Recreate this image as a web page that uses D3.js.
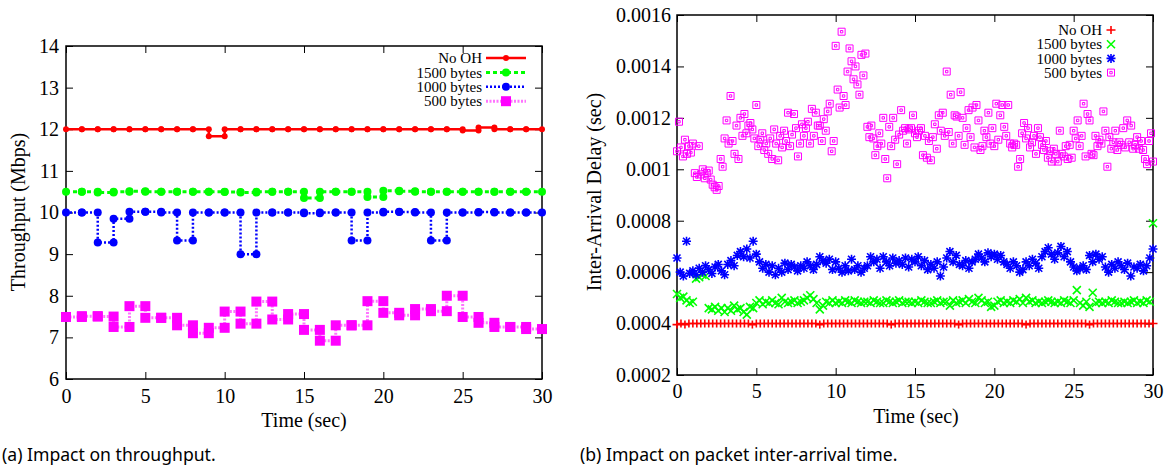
<!doctype html>
<html>

<head>
	<meta charset="utf-8">
	<style>
		body { margin: 0; background: #fff; }
		svg text { font-family: "Liberation Serif", "DejaVu Serif", serif; fill: #000; }
		svg .caption { font-family: "Noto Sans", Lato, sans-serif; }
	</style>
</head>

<body>
	<div class="figure"></div>

	<script src="https://d3js.org/d3.v7.min.js"></script>
	<script>
		// ---- (a) throughput, one value per 1 s interval (Mbps) ----
		let tpSeries = ["No OH", "1500 bytes", "1000 bytes", "500 bytes"];
		let tpNoOH = [12, 12, 12, 12, 12, 12, 12, 12, 12, 11.83, 12, 12, 12, 12, 12,
			12, 12, 12, 12, 12, 12, 12, 12, 12, 12, 11.97, 12.04, 12, 12, 12];
		let tp1500 = [10.5, 10.5, 10.48, 10.5, 10.51, 10.5, 10.5, 10.5, 10.5, 10.5, 10.49, 10.48, 10.5, 10.5, 10.5,
			10.35, 10.5, 10.5, 10.5, 10.37, 10.52, 10.51, 10.5, 10.5, 10.5, 10.5, 10.5, 10.5, 10.5, 10.5];
		let tp1000 = [10, 10, 9.28, 9.85, 10.02, 10.02, 10, 9.33, 10, 10, 10, 9.0, 10, 10, 10,
			9.98, 10, 10, 9.33, 10, 10.02, 10.01, 10, 9.33, 10, 10, 10.01, 10, 10, 10];
		let tp500 = [7.49, 7.51, 7.5, 7.25, 7.75, 7.47, 7.47, 7.29, 7.1, 7.23, 7.62, 7.33, 7.86, 7.43, 7.56,
			7.18, 6.92, 7.29, 7.29, 7.87, 7.59, 7.53, 7.68, 7.63, 8.0, 7.49, 7.35, 7.25, 7.25, 7.2];
		let tpTicksX = [0, 5, 10, 15, 20, 25, 30];
		let tpTicksY = [6, 7, 8, 9, 10, 11, 12, 13, 14];

		// ---- (b) inter-arrival delay, evenly spaced samples over 0..30 s (microseconds) ----
		let iatNoOH = [
			396, 400, 396, 400, 400, 400, 400, 400, 400, 400,
			400, 400, 400, 400, 400, 400, 400, 400, 400, 396,
			400, 400, 400, 400, 400, 400, 400, 400, 400, 400,
			400, 400, 400, 400, 400, 400, 396, 400, 400, 400,
			400, 400, 400, 400, 400, 400, 400, 400, 400, 400,
			400, 400, 400, 400, 396, 400, 400, 400, 400, 400,
			400, 400, 400, 400, 400, 400, 400, 400, 400, 400,
			400, 396, 400, 400, 400, 400, 400, 400, 400, 400,
			400, 400, 400, 400, 400, 400, 400, 400, 396, 400,
			400, 400, 400, 400, 400, 400, 400, 400, 400, 400,
			400, 400, 400, 400, 396, 400, 400, 400, 400, 400,
			400, 400, 400, 400, 400, 400, 400, 400, 400, 400,
			400];
		let iat1500 = [
			515, 500, 505, 490, 480, 485, 575, 580, 590, 585,
			460, 455, 465, 450, 460, 445, 460, 450, 470, 455,
			460, 445, 435, 465, 460, 480, 490, 475, 485, 480,
			490, 480, 475, 500, 485, 480, 485, 490, 480, 485,
			490, 500, 510, 495, 480, 455, 470, 485, 480, 490,
			480, 485, 480, 490, 485, 480, 490, 485, 480, 485,
			485, 480, 490, 485, 480, 480, 490, 485, 480, 485,
			490, 480, 485, 485, 480, 485, 480, 490, 485, 480,
			480, 485, 490, 480, 485, 485, 470, 490, 480, 485,
			490, 480, 495, 485, 480, 500, 490, 480, 485, 465,
			470, 485, 490, 480, 485, 480, 490, 485, 495, 480,
			500, 485, 490, 480, 485, 480, 485, 490, 485, 480,
			485, 480, 490, 485, 480, 490, 530, 480, 470, 485,
			465, 520, 480, 485, 480, 485, 480, 490, 485, 480,
			480, 485, 480, 485, 490, 480, 485, 480, 490, 485,
			790];
		let iat1000 = [
			655, 600, 585, 720, 595, 605, 590, 615, 600, 625,
			610, 595, 620, 630, 605, 590, 630, 645, 625, 665,
			680, 660, 690, 655, 720, 670, 640, 615, 630, 600,
			625, 590, 615, 600, 635, 610, 630, 620, 605, 625,
			615, 640, 625, 610, 630, 660, 645, 635, 650, 610,
			640, 615, 600, 625, 605, 650, 610, 625, 600, 615,
			625, 660, 640, 650, 615, 660, 640, 625, 655, 635,
			645, 630, 655, 620, 650, 640, 660, 625, 645, 610,
			630, 615, 640, 585, 620, 655, 680, 640, 665, 630,
			625, 645, 615, 640, 650, 670, 655, 640, 675, 660,
			670, 650, 665, 640, 630, 615, 640, 625, 600, 610,
			640, 625, 650, 635, 615, 660, 680, 695, 670, 650,
			675, 700, 660, 680, 640, 620, 605, 615, 625, 610,
			665, 640, 670, 650, 660, 620, 600, 630, 615, 640,
			625, 610, 635, 585, 620, 615, 630, 605, 625, 655,
			690];
		let iat500 = [
			1070, 1185, 1085, 1050, 1115, 1060, 1090, 1065,
			1100, 985, 970, 1090, 980, 1000, 965, 985,
			995, 960, 940, 930, 920, 935, 1040, 1010,
			1120, 1190, 1100, 1285, 1110, 1060, 1170, 1040,
			1200, 1130, 1215, 1140, 1170, 1180, 1155, 1120,
			1250, 1090, 1115, 1140, 1075, 1100, 1060, 1120,
			1040, 1155, 1100, 1035, 1130, 1085, 1150, 1110,
			1220, 1090, 1135, 1215, 1160, 1050, 1100, 1175,
			1130, 1160, 1185, 1100, 1235, 1130, 1220, 1170,
			1170, 1110, 1195, 1150, 1225, 1255, 1070, 1110,
			1480, 1310, 1240, 1535, 1285, 1250, 1380, 1470,
			1420, 1350, 1400, 1330, 1290, 1445, 1365, 1450,
			1165, 1125, 1170, 1120, 1055, 1090, 1140, 1100,
			1200, 1040, 965, 1165, 1090, 1200, 1115, 1020,
			1135, 1230, 1150, 1160, 1100, 1155, 1160, 1210,
			1140, 1125, 1150, 1160, 1055, 1130, 1045, 1110,
			1035, 1125, 1175, 1080, 1210, 1150, 1220, 1130,
			1380, 1145, 1290, 1100, 1210, 1205, 1130, 1300,
			1200, 1095, 1160, 1230, 1125, 1240, 1085, 1250,
			1190, 1075, 1090, 1150, 1125, 1220, 1100, 1160,
			1090, 1255, 1115, 1210, 1250, 1165, 1130, 1250,
			1100, 1085, 1100, 1095, 1010, 1040, 1140, 1180,
			1120, 1160, 1085, 1105, 1130, 1060, 1160, 1125,
			1095, 1075, 1110, 1045, 1070, 1030, 1080, 1060,
			1030, 1150, 1060, 1050, 1090, 1040, 1095, 1045,
			1150, 1120, 1190, 1090, 1130, 1255, 1050, 1215,
			1190, 1060, 1055, 1130, 1090, 1115, 1100, 1225,
			1150, 1010, 1125, 1080, 1105, 1150, 1075, 1105,
			1095, 1160, 1085, 1190, 1105, 1170, 1080, 1095,
			1125, 1080, 1110, 1075, 1040, 1020, 1110, 1140,
			1030];
		let iatTicksX = [0, 5, 10, 15, 20, 25, 30];
		let iatTicksY = [0.0002, 0.0004, 0.0006, 0.0008, 0.001, 0.0012, 0.0014, 0.0016];

		let colors = ["#ff0000", "#00ff00", "#0000ff", "#ff00ff"];

		let svg = d3.select(".figure")
			.append("svg")
			.attr("width", 1169)
			.attr("height", 470);

		function frame(x, y, xTicks, yTicks, yFmt, padX, padY) {
			let g = svg.append("g");
			let [x0, x1] = x.range();
			let [y0, y1] = y.range();
			g.append("g").attr("transform", `translate(0,${y0})`)
				.call(d3.axisBottom(x).tickValues(xTicks).tickSize(-7).tickPadding(padX).tickFormat(d3.format("d")));
			g.append("g").attr("transform", `translate(0,${y1})`)
				.call(d3.axisTop(x).tickValues(xTicks).tickSize(-7).tickFormat(""));
			g.append("g").attr("transform", `translate(${x0},0)`)
				.call(d3.axisLeft(y).tickValues(yTicks).tickSize(-7).tickPadding(padY).tickFormat(yFmt));
			g.append("g").attr("transform", `translate(${x1},0)`)
				.call(d3.axisRight(y).tickValues(yTicks).tickSize(-7).tickFormat(""));
			g.selectAll(".domain").remove();
			g.selectAll(".tick line").attr("stroke", "#000").attr("stroke-width", 1);
			g.selectAll(".tick text").style("font-size", "20px");
			g.append("rect")
				.attr("x", x0).attr("y", y1)
				.attr("width", x1 - x0).attr("height", y0 - y1)
				.attr("fill", "none").attr("stroke", "#000").attr("stroke-width", 1.5);
			return g;
		}

		// ================= (a) =================
		let ax = d3.scaleLinear().domain([0, 30]).range([66, 542]);
		let ay = d3.scaleLinear().domain([6, 14]).range([379, 46]);
		frame(ax, ay, tpTicksX, tpTicksY, d3.format("d"), 10, 7);

		// each interval i..i+1 gives two points with the same value
		function steps(vals) {
			let pts = [];
			vals.forEach((v, i) => { pts.push([i, v]); pts.push([i + 1, v]); });
			return pts;
		}

		let tpStyles = [
			{ width: 2.5, dash: null, opacity: 1, mark: "circle", r: 3 },
			{ width: 3, dash: "4,3", opacity: 1, mark: "circle", r: 4 },
			{ width: 2.5, dash: "2,2", opacity: 1, mark: "circle", r: 4 },
			{ width: 3, dash: "2,1.5", opacity: 0.55, mark: "square", r: 5 }
		];
		let tpData = [tpNoOH, tp1500, tp1000, tp500];
		let line = d3.line().x(d => ax(d[0])).y(d => ay(d[1]));

		function marker(sel, st, color) {
			if (st.mark === "circle") {
				sel.append("circle").attr("r", st.r).attr("fill", color);
			} else {
				sel.append("rect").attr("x", -st.r).attr("y", -st.r)
					.attr("width", 2 * st.r).attr("height", 2 * st.r).attr("fill", color);
			}
		}

		tpData.forEach((vals, k) => {
			let st = tpStyles[k];
			let pts = steps(vals);
			let g = svg.append("g");
			g.append("path").attr("d", line(pts))
				.attr("fill", "none").attr("stroke", colors[k])
				.attr("stroke-width", st.width)
				.attr("stroke-dasharray", st.dash)
				.attr("stroke-opacity", st.opacity);
			g.selectAll("g").data(pts).join("g")
				.attr("transform", d => `translate(${ax(d[0])},${ay(d[1])})`)
				.each(function () { marker(d3.select(this), st, colors[k]); });
		});

		// legend (a)
		tpSeries.forEach((name, k) => {
			let st = tpStyles[k];
			let y = 58 + k * 14.4;
			svg.append("text").attr("x", 482).attr("y", y).attr("dy", "0.35em")
				.attr("text-anchor", "end").style("font-size", "15px").text(name);
			svg.append("line").attr("x1", 486).attr("x2", 526).attr("y1", y).attr("y2", y)
				.attr("stroke", colors[k]).attr("stroke-width", st.width)
				.attr("stroke-dasharray", st.dash).attr("stroke-opacity", st.opacity);
			let m = svg.append("g").attr("transform", `translate(506,${y})`);
			marker(m, st, colors[k]);
		});

		svg.append("text").attr("transform", "translate(25,212) rotate(-90)")
			.attr("text-anchor", "middle").style("font-size", "20px").text("Throughput (Mbps)");
		svg.append("text").attr("x", 304).attr("y", 427)
			.attr("text-anchor", "middle").style("font-size", "20px").text("Time (sec)");

		// ================= (b) =================
		let bx = d3.scaleLinear().domain([0, 30]).range([677, 1153]);
		let by = d3.scaleLinear().domain([0.0002, 0.0016]).range([375, 15]);
		frame(bx, by, iatTicksX, iatTicksY, d => String(+d.toFixed(4)), 9, 6);

		let shapes = [
			"M-4.5,0H4.5M0,-4V4",
			"M-4,-4L4,4M-4,4L4,-4",
			"M-4.5,0H4.5M0,-4.5V4.5M-3.5,-3.5L3.5,3.5M-3.5,3.5L3.5,-3.5",
			"M-3.5,-3.5H3.5V3.5H-3.5ZM-1.2,-1.2H1.2V1.2H-1.2Z"
		];
		let shapeWidth = [1.6, 1.6, 1.6, 1];
		let iatData = [iatNoOH, iat1500, iat1000, iat500];

		iatData.forEach((vals, k) => {
			let n = vals.length - 1;
			svg.append("g").selectAll("path").data(vals).join("path")
				.attr("transform", (d, i) => `translate(${bx(i * 30 / n)},${by(d * 1e-6)})`)
				.attr("d", shapes[k])
				.attr("fill", "none").attr("stroke", colors[k]).attr("stroke-width", shapeWidth[k]);
		});

		// legend (b)
		tpSeries.forEach((name, k) => {
			let y = 30 + k * 14.2;
			svg.append("text").attr("x", 1102).attr("y", y).attr("dy", "0.35em")
				.attr("text-anchor", "end").style("font-size", "15px").text(name);
			svg.append("path").attr("transform", `translate(1111,${y})`)
				.attr("d", shapes[k]).attr("fill", "none")
				.attr("stroke", colors[k]).attr("stroke-width", shapeWidth[k]);
		});

		svg.append("text").attr("transform", "translate(601,192) rotate(-90)")
			.attr("text-anchor", "middle").style("font-size", "20px").text("Inter-Arrival Delay (sec)");
		svg.append("text").attr("x", 916).attr("y", 423)
			.attr("text-anchor", "middle").style("font-size", "20px").text("Time (sec)");

		// captions
		svg.append("text").attr("class", "caption").attr("x", 2).attr("y", 461)
			.style("font-size", "17.6px").text("(a) Impact on throughput.");
		svg.append("text").attr("class", "caption").attr("x", 580).attr("y", 461)
			.style("font-size", "17.6px").text("(b) Impact on packet inter-arrival time.");
	</script>

</body>

</html>
